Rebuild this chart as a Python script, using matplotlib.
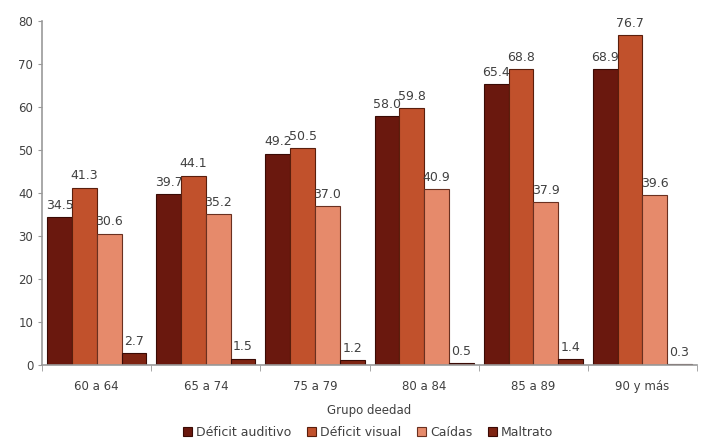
import matplotlib.pyplot as plt
import numpy as np

grupos = ['60 a 64', '65 a 74', '75 a 79', '80 a 84', '85 a 89', '90 y más']
series = ['Déficit auditivo', 'Déficit visual', 'Caídas', 'Maltrato']
auditivo = [34.5, 39.7, 49.2, 58.0, 65.4, 68.9]
visual = [41.3, 44.1, 50.5, 59.8, 68.8, 76.7]
caidas = [30.6, 35.2, 37.0, 40.9, 37.9, 39.6]
maltrato = [2.7, 1.5, 1.2, 0.5, 1.4, 0.3]

colores = ['#6A180E', '#C1512C', '#E68A6B', '#7E2412']
bordes = ['#3A0A04', '#5A1E0C', '#6A3020', '#3A0A04']

fig = plt.figure(figsize=(7.04, 4.42), dpi=100)
ax = fig.add_axes([0.06, 0.174, 0.93, 0.778])

x = np.arange(len(grupos))
w = 0.227
datos = [auditivo, visual, caidas, maltrato]
for i, vals in enumerate(datos):
    pos = x + (i - 1.5) * w
    bars = ax.bar(pos, vals, w, color=colores[i], edgecolor=bordes[i],
                  linewidth=0.8, label=series[i])
    for b, v in zip(bars, vals):
        ax.text(b.get_x() + b.get_width() / 2, v + 1.2, f'{v:.1f}',
                ha='center', va='bottom', fontsize=9, color='#404040')

ax.set_xlim(-0.5, len(grupos) - 0.5)
ax.set_ylim(0, 80)
ax.set_yticks(range(0, 81, 10))
ax.set_xticks(x)
ax.set_xticklabels(grupos)
ax.set_xticks(np.arange(-0.5, len(grupos), 1.0), minor=True)
ax.tick_params(axis='x', which='major', length=0, labelsize=8.5, colors='#404040', pad=11)
ax.tick_params(axis='x', which='minor', length=4, color='#999999')
ax.tick_params(axis='y', length=3, color='#999999', labelsize=8.5, labelcolor='#404040')

for s in ['top', 'right']:
    ax.spines[s].set_visible(False)
for s in ['left', 'bottom']:
    ax.spines[s].set_color('#999999')
    ax.spines[s].set_linewidth(1.2)

ax.set_xlabel('Grupo deedad', fontsize=8.5, color='#404040', labelpad=8)
fig.legend(loc='center', bbox_to_anchor=(0.523, 0.022), ncol=4, frameon=False,
           fontsize=9, handlelength=0.7, handleheight=0.7, handletextpad=0.3,
           columnspacing=1.3, labelcolor='#404040')

fig.savefig('out.png', dpi=100)
